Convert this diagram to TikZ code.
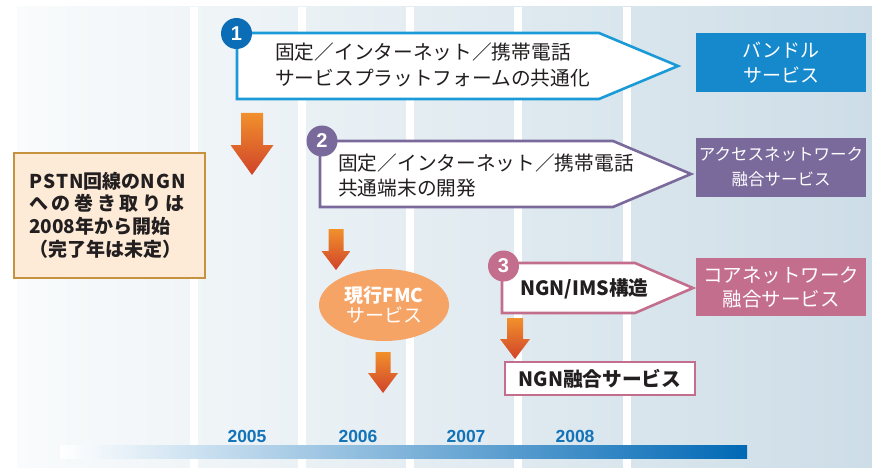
\documentclass[tikz,border=0pt]{standalone}
\usepackage{fontspec}
\usetikzlibrary{shapes.geometric}
\setmainfont{Noto Sans CJK JP}
\newfontfamily\latf{Liberation Sans}
\definecolor{txt}{HTML}{231F20}
\definecolor{cone}{HTML}{1A9AD7}
\definecolor{conedark}{HTML}{0A6DB5}
\definecolor{conebox}{HTML}{1589CC}
\definecolor{ctwo}{HTML}{7A6A9C}
\definecolor{cthree}{HTML}{C46E8E}
\definecolor{pstnfill}{HTML}{FDEBD7}
\definecolor{pstnline}{HTML}{C79240}
\definecolor{ellfill}{HTML}{F6A466}
\definecolor{arrtop}{HTML}{F1902C}
\definecolor{arrbot}{HTML}{D0432A}
\definecolor{yearc}{HTML}{1273B8}
\definecolor{bgL}{HTML}{F9FBFC}
\definecolor{bgR}{HTML}{CDDDE7}
\definecolor{barmid}{HTML}{94B1DB}
\definecolor{barR}{HTML}{0068B5}
\newcommand{\bigarr}[6]{\shade[top color=arrtop,bottom color=arrbot] (#1-#3,#2) -- (#1+#3,#2) -- (#1+#3,#5) -- (#1+#4,#5) -- (#1,#6) -- (#1-#4,#5) -- (#1-#3,#5) -- cycle;}
\newcommand{\wide}[1]{{\addfontfeatures{LetterSpace=6}#1}}
\begin{document}
\begin{tikzpicture}[x=1pt,y=-1pt,
  numc/.style={circle,inner sep=0,minimum size=31pt,text=white,font=\latf\bfseries\fontsize{20}{20}\selectfont},
  jtxt/.style={inner sep=0,anchor=west,align=left,text=txt},
  rbox/.style={inner sep=0,minimum width=170pt,text=white,align=center},
  yearlbl/.style={text=yearc,font=\latf\bfseries\fontsize{17.5}{18}\selectfont,inner sep=0}]
\useasboundingbox (0,0) rectangle (872,468);
% background columns
\shade[left color=bgL,right color=bgR] (17,7) rectangle (872,468);
\foreach \g in {190,298,406,514,623} \fill[white] (\g,7) rectangle (\g+8,468);
% timeline bar
\shade[left color=white,middle color=barmid,right color=barR] (60,445) rectangle (747,458);
\node[yearlbl] (y5) at (247,436) {2005};
\node[yearlbl] (y6) at (358,436) {2006};
\node[yearlbl] (y7) at (466,436) {2007};
\node[yearlbl] (y8) at (575,436) {2008};
% box 1
\draw[cone,line width=2.6,fill=white] (237,33) -- (599,33) -- (678,66) -- (599,99) -- (237,99) -- cycle;
\node[numc,fill=conedark] (n1) at (236.5,33.5) {1};
\node[jtxt,font=\fontsize{19.7}{26}\selectfont] (t1) at (275,65) {固定／インターネット／携帯電話\\サービスプラットフォームの共通化};
\node[rbox,fill=conebox,minimum height=59pt,font=\fontsize{19}{25}\selectfont] (r1) at (781,62.5) {バンドル\\サービス};
% box 2
\draw[ctwo,line width=2.6,fill=white] (320,141) -- (613,141) -- (691,174) -- (613,207) -- (320,207) -- cycle;
\node[numc,fill=ctwo] (n2) at (322,141) {2};
\node[jtxt,font=\fontsize{19.7}{25}\selectfont] (t2) at (338,175.5) {固定／インターネット／携帯電話\\共通端末の開発};
\node[rbox,fill=ctwo,minimum height=59pt,font=\fontsize{16.5}{25}\selectfont] (r2) at (781,167.5) {アクセスネットワーク\\融合サービス};
% box 3
\draw[cthree,line width=2.6,fill=white] (502,263) -- (635,263) -- (693,288) -- (635,313) -- (502,313) -- cycle;
\node[numc,fill=cthree] (n3) at (503.5,266) {3};
\node[jtxt,font=\bfseries\fontsize{19.7}{24}\selectfont] (t3) at (520,289) {NGN/IMS構造};
\node[rbox,fill=cthree,minimum height=58pt,font=\fontsize{19.5}{24}\selectfont] (r3) at (781,287) {コアネットワーク\\融合サービス};
% NGN service box
\node[draw=cthree,line width=2,fill=white,minimum width=190pt,minimum height=33pt,inner sep=0,text=txt,font=\bfseries\fontsize{19.7}{24}\selectfont] (ngn) at (600,378.5) {NGN融合サービス};
% PSTN box
\node[draw=pstnline,line width=2,fill=pstnfill,minimum width=191pt,minimum height=125pt,inner sep=0] (pstn) at (109.5,215.5) {};
\node[jtxt,font=\bfseries\fontsize{19}{22.7}\selectfont] (pt) at (29,215) {\wide{PSTN}回線の\wide{NGN}\\\makebox[155pt][l]{へ\hfill の\hfill 巻\hfill き\hfill 取\hfill り\hfill は}\\2008年から開始\\（完了年は未定）};
% FMC ellipse
\node[ellipse,fill=ellfill,minimum width=130pt,minimum height=72pt,inner sep=0,text=white,align=center,font=\fontsize{19}{20}\selectfont] (fmc) at (384,305) {\bfseries 現行FMC\\サービス};
% orange arrows
\bigarr{252}{113}{11}{21.5}{145}{175}
\bigarr{336}{229}{7.5}{14.5}{251}{270}
\bigarr{383}{352}{7.5}{15}{373}{393}
\bigarr{515}{318}{8}{15}{339}{359}
\end{tikzpicture}
\end{document}
